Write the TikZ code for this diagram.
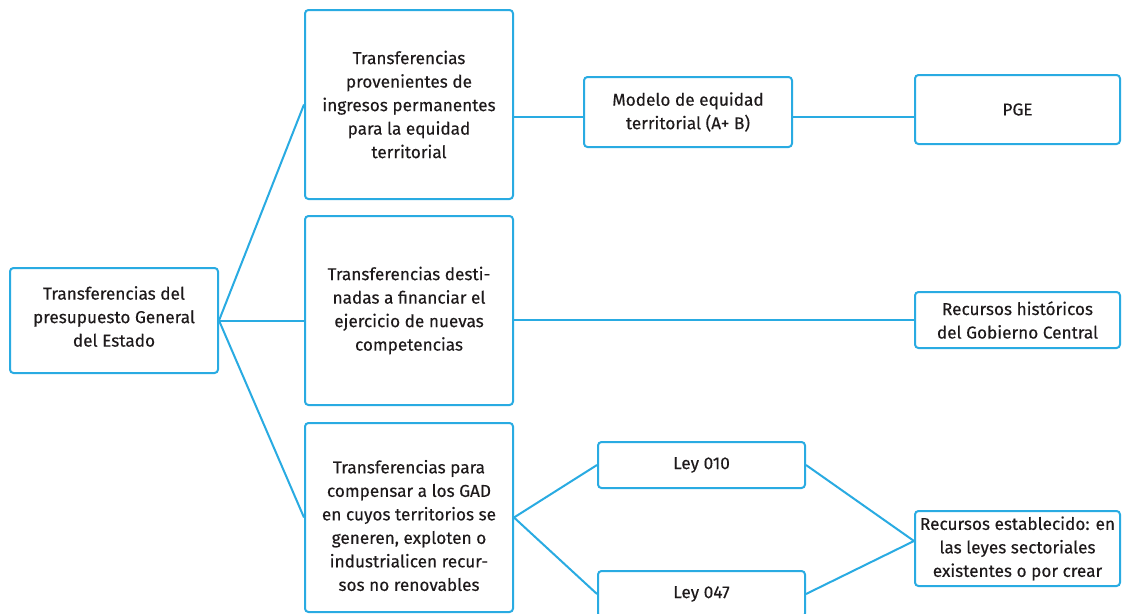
\documentclass[tikz,border=0pt]{standalone}
\usepackage{fontspec}
\setmainfont{Fira Sans}[FakeBold=0.25]
\definecolor{lineblue}{RGB}{41,171,226}
\definecolor{txt}{RGB}{30,26,27}
\begin{document}
\begin{tikzpicture}[x=1pt,y=-1pt,
  boxtext/.style={text=txt, align=center, inner sep=0pt, font=\fontsize{17.2}{23.5}\selectfont},
  box/.style={draw=lineblue, line width=2pt, rounded corners=3.5pt, fill=white, boxtext},
  conn/.style={draw=lineblue, line width=2pt}]
\useasboundingbox (0,0) rectangle (1124,613);
\clip (0,0) rectangle (1124,613);
\fill[white] (0,0) rectangle (1124,613);
% nodes
\node[box, minimum width=208pt, minimum height=105pt,
  label={[boxtext, yshift=4pt]center:Transferencias del\\presupuesto General\\del Estado}] (root) at (114,320.5) {};
\node[box, minimum width=208pt, minimum height=189pt] (a) at (409,104.5) {Transferencias\\provenientes de\\ingresos permanentes\\para la equidad\\territorial};
\node[box, minimum width=208pt, minimum height=189pt] (b) at (409,310.5) {Transferencias desti-\\nadas a financiar el\\ejercicio de nuevas\\competencias};
\node[box, minimum width=208pt, minimum height=189pt,
  label={[boxtext, yshift=-8pt]center:Transferencias para\\compensar a los GAD\\en cuyos territorios se\\generen, exploten o\\industrialicen recur-\\sos no renovables}] (c) at (409,517.5) {};
\node[box, minimum width=208pt, minimum height=70pt] (m) at (688,112) {Modelo de equidad\\territorial (A+ B)};
\node[box, minimum width=205pt, minimum height=69pt] (pge) at (1017.5,109.5) {PGE};
\node[box, minimum width=205pt, minimum height=56pt] (rh) at (1017.5,320) {Recursos históricos\\del Gobierno Central};
\node[box, minimum width=207pt, minimum height=46pt] (l1) at (701.5,465) {Ley 010};
\node[box, minimum width=207pt, minimum height=46pt] (l2) at (701.5,594) {Ley 047};
\node[box, minimum width=205pt, minimum height=75pt] (re) at (1017.5,548.5) {Recursos establecido: en\\las leyes sectoriales\\existentes o por crear};
\coordinate (rein) at (re.west |- 0,541);
\coordinate (aout) at (a.east |- 0,117);
% connectors
\draw[conn] (root.east) -- (a.west);
\draw[conn] (root.east) -- (root.east -| b.west);
\draw[conn] (root.east) -- (c.west);
\draw[conn] (aout) -- (aout -| m.west);
\draw[conn] (m.east |- aout) -- (pge.west |- aout);
\draw[conn] (b.east |- rh.west) -- (rh.west);
\draw[conn] (c.east) -- (l1.west);
\draw[conn] (c.east) -- (l2.west);
\draw[conn] (l1.east) -- (rein);
\draw[conn] (l2.east) -- (rein);
\end{tikzpicture}
\end{document}
